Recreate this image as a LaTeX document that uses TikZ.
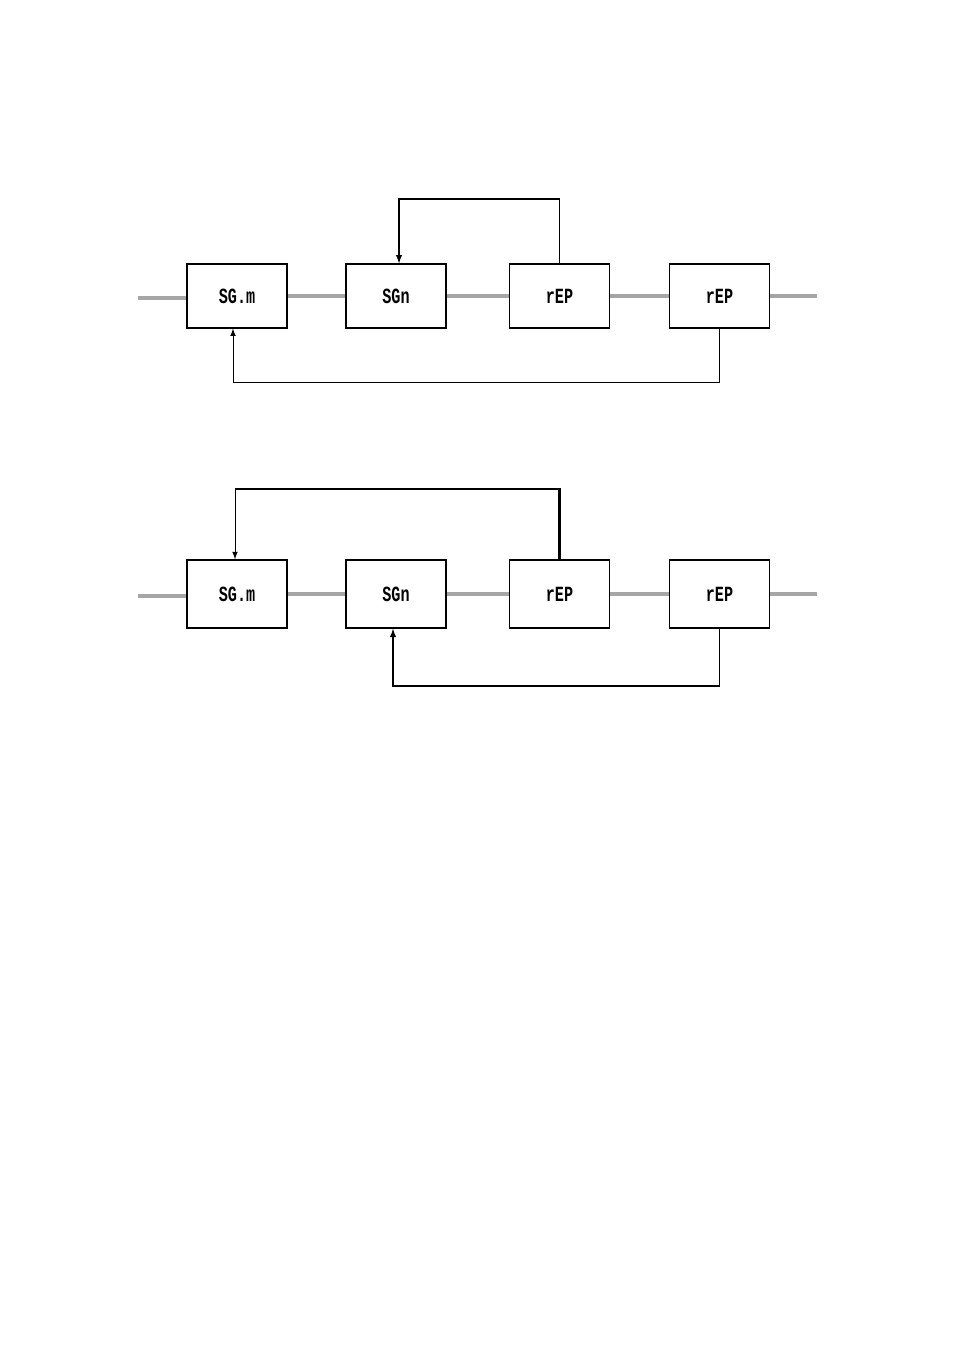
\documentclass[tikz,border=0pt]{standalone}
\usepackage{fontspec}
\newfontfamily\boxfont[FakeStretch=0.7]{Liberation Mono}
\tikzset{
  blk/.style={draw,rectangle,minimum width=62.4pt,minimum height=40pt,inner sep=0pt,
    font=\boxfont\bfseries\fontsize{13.5}{15}\selectfont,line width=0.7pt},
  blkb/.style={blk,minimum height=42.4pt,line width=1pt},
  sig/.style={draw,gray!70,line width=1.9pt},
  fb/.style={draw,-latex,line width=0.6pt}
}
\begin{document}
\begin{tikzpicture}[x=0.624pt,y=-0.624pt]
\useasboundingbox (0,0) rectangle (954,1351);
% upper chain
\node[blk] (SGm1) at (237,296) {SG.m};
\node[blk] (SGn1) at (396,296) {SGn};
\node[blk] (rEPa1) at (559.5,296) {rEP};
\node[blk] (rEPb1) at (719.5,296) {rEP};
\coordinate (in1) at (138,298);
\coordinate (out1) at (817,296);
\coordinate (fbt1) at (399,199);
\coordinate (fbb1) at (233,382);
\draw[sig] (in1) -- (in1 -| SGm1.west);
\draw[sig] (SGm1) -- (SGn1);
\draw[sig] (SGn1) -- (rEPa1);
\draw[sig] (rEPa1) -- (rEPb1);
\draw[sig] (rEPb1.east) -- (out1);
\draw[fb,line width=0.8pt] (rEPa1.north) |- (fbt1) -- (fbt1 |- SGn1.north);
\draw[fb] (rEPb1.south) |- (fbb1) -- (fbb1 |- SGm1.south);
% lower chain
\node[blkb] (SGm2) at (237,594) {SG.m};
\node[blkb] (SGn2) at (396,594) {SGn};
\node[blkb] (rEPa2) at (559.5,594) {rEP};
\node[blkb] (rEPb2) at (719.5,594) {rEP};
\coordinate (in2) at (138,596);
\coordinate (out2) at (817,594);
\coordinate (fbt2) at (235,489);
\coordinate (fbb2) at (393,686);
\draw[sig] (in2) -- (in2 -| SGm2.west);
\draw[sig] (SGm2) -- (SGn2);
\draw[sig] (SGn2) -- (rEPa2);
\draw[sig] (rEPa2) -- (rEPb2);
\draw[sig] (rEPb2.east) -- (out2);
\draw[line width=1.3pt] (rEPa2.north) |- (fbt2);
\draw[fb] (fbt2) -- (SGm2.north -| fbt2);
\draw[fb,line width=0.8pt] (rEPb2.south) |- (fbb2) -- (fbb2 |- SGn2.south);
\end{tikzpicture}
\end{document}
